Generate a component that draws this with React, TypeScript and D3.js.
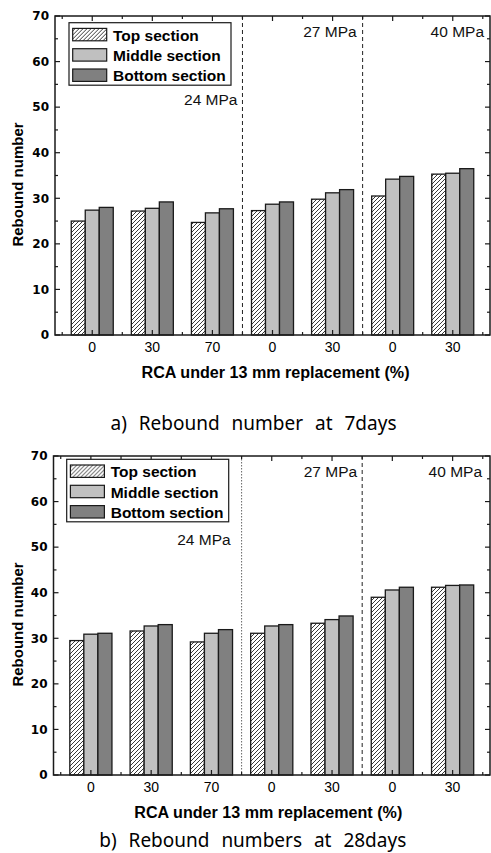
import React from "react";
import * as d3 from "d3";

// RCA replacement ratio (%) for each mix, grouped by design strength
const groups = ["0", "30", "70", "0", "30", "0", "30"];
const seriesNames = ["Top section", "Middle section", "Bottom section"];
const strengthLabels = ["24 MPa", "27 MPa", "40 MPa"];

// Rebound number at 7 days
const day7Top = [25.0, 27.2, 24.7, 27.3, 29.8, 30.5, 35.3];
const day7Middle = [27.4, 27.8, 26.8, 28.7, 31.2, 34.2, 35.5];
const day7Bottom = [28.0, 29.2, 27.7, 29.2, 31.9, 34.8, 36.5];

// Rebound number at 28 days
const day28Top = [29.5, 31.6, 29.2, 31.1, 33.3, 39.0, 41.2];
const day28Middle = [30.9, 32.7, 31.1, 32.7, 34.1, 40.6, 41.6];
const day28Bottom = [31.1, 33.0, 31.9, 33.0, 34.9, 41.2, 41.7];

const yTicks = [0, 10, 20, 30, 40, 50, 60, 70];

const FONT = "'Liberation Sans', Arial, sans-serif";
const TICK_FONT = "'DejaVu Sans', sans-serif";
const CAPTION_FONT = "'Noto Sans', 'Open Sans', sans-serif";
const STROKE = "#1a1a1a";
const fills = ["url(#hatch)", "#c0c0c0", "#808080"];

type ChartProps = {
  left: number;
  right: number;
  top: number;
  bottom: number;
  series: number[][];
  dividerStyles: string[];
  labelDx: number[];
  legendX: number;
  legendY: number;
  xTitleDx: number;
  caption: string;
  captionY: number;
};

function Chart(p: ChartProps) {
  const x = d3.scaleLinear().domain([0.38, 7.62]).range([p.left, p.right]);
  const y = d3.scaleLinear().domain([0, 70]).range([p.bottom, p.top]);
  const bw = x(1.233) - x(1);
  const idx = d3.range(1, 8);
  const halfTicks = d3.range(0.5, 7.6, 0.5);
  const minorY = d3.range(5, 70, 10);
  const dividers = [3.5, 5.5];
  const labelPos = [3.5, 5.5, 7.62];
  const labelVals = [50.5, 65.5, 65.5];
  const cx = (p.left + p.right) / 2;
  const cy = (p.top + p.bottom) / 2;

  return (
    <g>
      {/* bars */}
      {p.series.map((vals, s) =>
        vals.map((v, i) => (
          <rect
            key={`b${s}-${i}`}
            x={x(i + 1) + (s - 1.5) * bw}
            y={y(v)}
            width={bw}
            height={y(0) - y(v)}
            fill={fills[s]}
            stroke={STROKE}
            strokeWidth={1.3}
          />
        ))
      )}

      {/* strength group dividers */}
      {dividers.map((d, k) => (
        <line
          key={`d${k}`}
          x1={x(d)}
          x2={x(d)}
          y1={p.top}
          y2={p.bottom}
          stroke={p.dividerStyles[k] === "dot" ? "#666" : "#222"}
          strokeWidth={1}
          strokeDasharray={p.dividerStyles[k] === "dot" ? "1.5,1.5" : "4,3"}
        />
      ))}

      {/* strength labels */}
      {strengthLabels.map((t, k) => (
        <text
          key={`s${k}`}
          x={x(labelPos[k]) + p.labelDx[k]}
          y={y(labelVals[k])}
          textAnchor="end"
          fontFamily={FONT}
          fontSize={15.5}
          fill="#111"
        >
          {t}
        </text>
      ))}

      {/* frame */}
      <rect
        x={p.left}
        y={p.top}
        width={p.right - p.left}
        height={p.bottom - p.top}
        fill="none"
        stroke={STROKE}
        strokeWidth={1.5}
      />

      {/* x ticks (inward, mirrored on top) */}
      {halfTicks.map((t, k) => {
        const len = Number.isInteger(t) ? 5 : 3;
        return (
          <g key={`xt${k}`} stroke={STROKE} strokeWidth={1.2}>
            <line x1={x(t)} x2={x(t)} y1={p.bottom} y2={p.bottom - len} />
            <line x1={x(t)} x2={x(t)} y1={p.top} y2={p.top + len} />
          </g>
        );
      })}

      {/* y ticks (inward, mirrored on right) */}
      {yTicks.map((t) => (
        <g key={`yt${t}`} stroke={STROKE} strokeWidth={1.2}>
          <line x1={p.left} x2={p.left + 5} y1={y(t)} y2={y(t)} />
          <line x1={p.right} x2={p.right - 5} y1={y(t)} y2={y(t)} />
        </g>
      ))}
      {minorY.map((t) => (
        <g key={`ym${t}`} stroke={STROKE} strokeWidth={1.2}>
          <line x1={p.left} x2={p.left + 3} y1={y(t)} y2={y(t)} />
          <line x1={p.right} x2={p.right - 3} y1={y(t)} y2={y(t)} />
        </g>
      ))}

      {/* y tick labels */}
      {yTicks.map((t) => (
        <text
          key={`yl${t}`}
          x={p.left - 6}
          y={y(t)}
          dy="0.36em"
          textAnchor="end"
          fontFamily={TICK_FONT}
          fontWeight="bold"
          fontSize={12}
          fill="#000"
        >
          {t}
        </text>
      ))}

      {/* x tick labels */}
      {idx.map((i) => (
        <text
          key={`xl${i}`}
          x={x(i)}
          y={p.bottom + 16.5}
          textAnchor="middle"
          fontFamily={FONT}
          fontSize={14}
          fill="#000"
        >
          {groups[i - 1]}
        </text>
      ))}

      {/* axis titles */}
      <text
        transform={`translate(23,${cy + 9}) rotate(-90)`}
        textAnchor="middle"
        fontFamily={FONT}
        fontWeight="bold"
        fontSize={15}
        fill="#000"
      >
        Rebound number
      </text>
      <text
        x={cx + p.xTitleDx}
        y={p.bottom + 43}
        textAnchor="middle"
        fontFamily={FONT}
        fontWeight="bold"
        fontSize={16}
        textLength={268}
        lengthAdjust="spacingAndGlyphs"
        fill="#000"
      >
        RCA under 13 mm replacement (%)
      </text>

      {/* legend */}
      <g transform={`translate(${p.legendX},${p.legendY})`}>
        <rect x={0} y={0} width={162} height={62.5} fill="#fff" stroke={STROKE} strokeWidth={1.2} />
        {seriesNames.map((n, k) => (
          <g key={`lg${k}`} transform={`translate(0,${k * 20.3})`}>
            <rect x={3.7} y={5.7} width={34} height={12.4} fill={fills[k]} stroke={STROKE} strokeWidth={1.2} />
            <text x={44} y={18} fontFamily={FONT} fontWeight="bold" fontSize={15.5} fill="#000">
              {n}
            </text>
          </g>
        ))}
      </g>

      {/* caption */}
      <text
        x={cx - 19}
        y={p.captionY}
        textAnchor="middle"
        fontFamily={CAPTION_FONT}
        fontSize={19}
        fill="#000"
        style={{ wordSpacing: "7px" }}
      >
        {p.caption}
      </text>
    </g>
  );
}

export default function App() {
  return (
    <div style={{ position: "absolute", left: 0, top: 0 }}>
      <svg width={491} height={853} style={{ display: "block", background: "#fff" }}>
        <defs>
          <pattern id="hatch" patternUnits="userSpaceOnUse" width={4} height={4}>
            <rect width={4} height={4} fill="#fff" />
            <path d="M0,4 L4,0 M-1,1 L1,-1 M3,5 L5,3" stroke="#222" strokeWidth={0.9} />
          </pattern>
        </defs>
        <Chart
          left={55}
          right={490}
          top={16}
          bottom={335}
          series={[day7Top, day7Middle, day7Bottom]}
          dividerStyles={["dash", "dash"]}
          labelDx={[-5, -6, -6]}
          legendX={69}
          legendY={22.7}
          xTitleDx={3}
          caption="a) Rebound number at 7days"
          captionY={430}
        />
        <Chart
          left={53.5}
          right={490}
          top={456}
          bottom={775}
          series={[day28Top, day28Middle, day28Bottom]}
          dividerStyles={["dot", "dash"]}
          labelDx={[-11, -5, -8]}
          legendX={66.7}
          legendY={459.3}
          xTitleDx={-3.5}
          caption="b) Rebound numbers at 28days"
          captionY={847}
        />
      </svg>
    </div>
  );
}
